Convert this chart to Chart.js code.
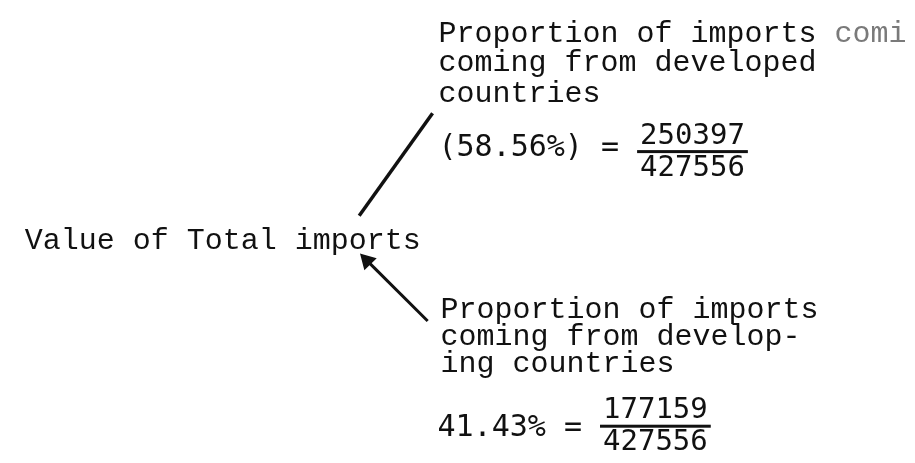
<!DOCTYPE html>
<html>
<head>
<meta charset="utf-8">
<script src="https://cdn.jsdelivr.net/npm/chart.js@4.4.1/dist/chart.umd.min.js"></script>
<style>
  html, body { margin: 0; padding: 0; background: #fff; }
  #wrap { width: 915px; height: 463px; position: relative; }
</style>
</head>
<body>
<div id="wrap"><canvas id="diagram"></canvas></div>
<script>
// text of the diagram
const totalLabel = 'Value of Total imports';
const developedLines = ['Proportion of imports', 'coming from developed', 'countries'];
const developedFaded = ' comi';
const developingLines = ['Proportion of imports', 'coming from develop-', 'ing countries'];

// values
const sharePct = ['(58.56%)', '41.43%'];
const fromGroup = ['250397', '177159'];
const totalImports = '427556';

// connector strokes (page coordinates, y down)
const upperStroke = [{ x: 357, y: 215 }, { x: 432, y: 108 }];
const lowerStroke = [{ x: 427, y: 325 }, { x: 365, y: 262 }];

const ink = '#111';
const wordFont = '30px "Liberation Mono", "Courier New", monospace';
const numFont = '30px "DejaVu Sans Mono", monospace';
const fracFont = '29px "DejaVu Sans Mono", monospace';

// arrow head direction from the stroke itself
const headAngle = Math.atan2(lowerStroke[1].x - lowerStroke[0].x, -(lowerStroke[1].y - lowerStroke[0].y)) * 180 / Math.PI;

const textPlugin = {
    id: 'diagramText',
    afterDatasetsDraw(chart) {
        const ctx = chart.ctx;
        const sx = chart.scales.x, sy = chart.scales.y;
        const px = v => sx.getPixelForValue(v);
        const py = v => sy.getPixelForValue(v);

        ctx.save();
        ctx.fillStyle = ink;
        ctx.textBaseline = 'alphabetic';
        ctx.textAlign = 'left';
        ctx.font = wordFont;

        // left label
        ctx.fillText(totalLabel, px(15), py(250));

        // upper block
        const upperBase = [33, 64, 96];
        developedLines.forEach((t, i) => ctx.fillText(t, px(438), py(upperBase[i])));
        const w0 = ctx.measureText(developedLines[0]).width;
        ctx.fillStyle = '#7a7a7a';
        ctx.fillText(developedFaded, px(438) + w0, py(upperBase[0]));
        ctx.fillStyle = ink;

        // lower block
        const lowerBase = [322, 350, 378];
        developingLines.forEach((t, i) => ctx.fillText(t, px(440), py(lowerBase[i])));

        // share = numerator / total
        const rows = [
            { x: 438, base: 153, bar: 148 },
            { x: 437, base: 445, bar: 435 }
        ];
        rows.forEach((r, i) => {
            ctx.font = numFont;
            const lead = sharePct[i] + ' =';
            ctx.fillText(lead, px(r.x), py(r.base));
            const barX = px(r.x) + ctx.measureText(lead + ' ').width;
            ctx.font = fracFont;
            const numW = ctx.measureText(fromGroup[i]).width;
            const denW = ctx.measureText(totalImports).width;
            const barW = Math.max(numW, denW) + 6;
            ctx.fillText(fromGroup[i], barX + (barW - numW) / 2, py(r.bar) - 8);
            ctx.fillText(totalImports, barX + (barW - denW) / 2, py(r.bar) + 24);
            ctx.fillRect(barX, py(r.bar) - 1.5, barW, 3);
        });
        ctx.restore();
    }
};

new Chart(document.getElementById('diagram'), {
    type: 'scatter',
    data: {
        datasets: [
            {
                label: 'to developed',
                data: upperStroke,
                showLine: true,
                borderColor: ink,
                borderWidth: 3.5,
                pointRadius: 0
            },
            {
                label: 'to developing',
                data: lowerStroke,
                showLine: true,
                borderColor: ink,
                backgroundColor: ink,
                borderWidth: 3,
                pointStyle: 'triangle',
                pointRadius: [0, 7],
                pointRotation: headAngle
            }
        ]
    },
    options: {
        responsive: true,
        maintainAspectRatio: false,
        animation: false,
        layout: { padding: 0 },
        plugins: { legend: { display: false }, tooltip: { enabled: false } },
        scales: {
            x: { type: 'linear', min: 0, max: 915, display: false },
            y: { type: 'linear', min: 0, max: 463, reverse: true, display: false }
        }
    },
    plugins: [textPlugin]
});
</script>
</body>
</html>
